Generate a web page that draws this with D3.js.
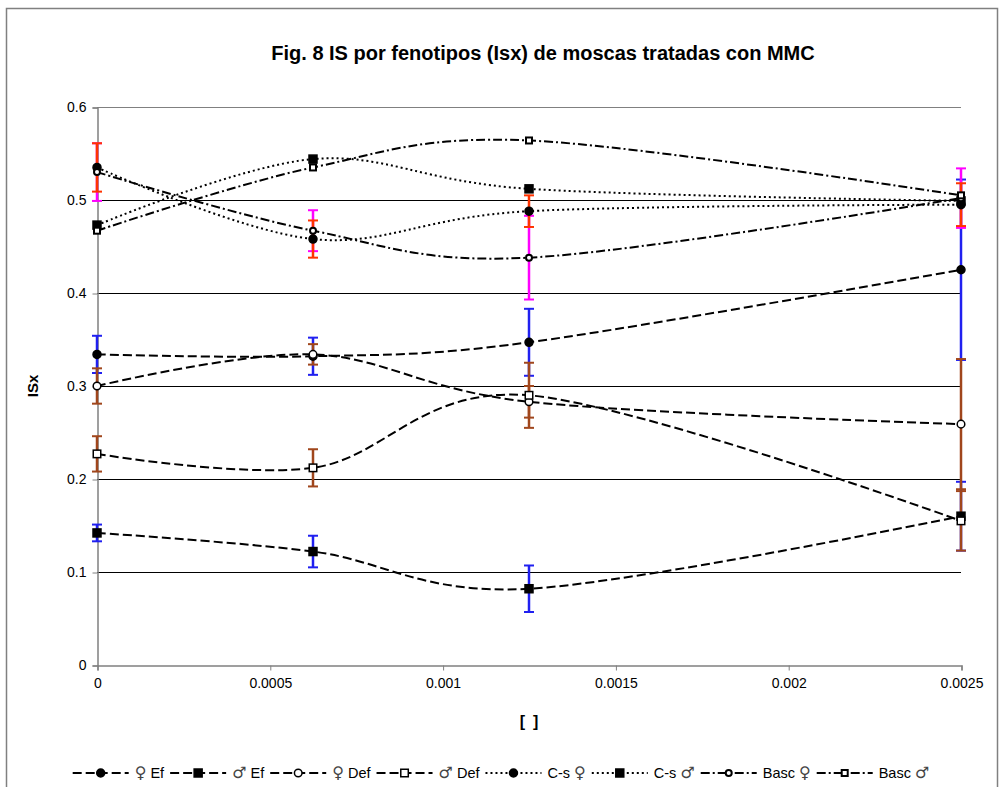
<!DOCTYPE html>
<html><head><meta charset="utf-8">
<script src="https://cdn.jsdelivr.net/npm/d3@7"></script>
<style>body{margin:0;background:#fff}svg{display:block;font-family:Arial,"Liberation Sans",sans-serif}</style>
</head><body>
<svg id="c" width="1006" height="787"></svg>
<script>
const title = "Fig. 8 IS por fenotipos (Isx) de moscas tratadas con MMC";
const xValues = [0, 0.000625, 0.00125, 0.0025];
const xTicks = [0, 0.0005, 0.001, 0.0015, 0.002, 0.0025];
const yTicks = [0, 0.1, 0.2, 0.3, 0.4, 0.5, 0.6];
const seriesNames = ["♀ Ef", "♂ Ef", "♀ Def", "♂ Def", "C-s ♀", "C-s ♂", "Basc ♀", "Basc ♂"];
const efF   = [0.334, 0.332, 0.347, 0.425];
const efM   = [0.142, 0.122, 0.082, 0.160];
const defF  = [0.300, 0.334, 0.283, 0.259];
const defM  = [0.227, 0.212, 0.290, 0.155];
const csF   = [0.535, 0.458, 0.488, 0.495];
const csM   = [0.473, 0.544, 0.512, 0.499];
const bascF = [0.530, 0.467, 0.438, 0.502];
const bascM = [0.467, 0.535, 0.564, 0.505];
const errEfF   = [0.020, 0.020, 0.036, 0.097];
const errEfM   = [0.009, 0.017, 0.025, 0.037];
const errDefF  = [0.019, 0.011, 0.017, 0.070];
const errDefM  = [0.019, 0.020, 0.035, 0.032];
const errCsF   = [0.026, 0.020, 0.017, 0.023];
const errBascF = [0.031, 0.022, 0.045, 0.032];

const styles = [
  {dash:"9,4", marker:"circle", fill:true},
  {dash:"9,4", marker:"square", fill:true},
  {dash:"9,4", marker:"circle", fill:false},
  {dash:"9,4", marker:"square", fill:false},
  {dash:"2,3", marker:"circle", fill:true},
  {dash:"2,3", marker:"square", fill:true},
  {dash:"9,3,2,3", marker:"circle", fill:false, small:true},
  {dash:"9,3,2,3", marker:"square", fill:false, small:true}
];
const seriesValues = [efF, efM, defF, defM, csF, csM, bascF, bascM];
const errorSets = [
  {vals: efF, err: errEfF, color:"#2020F0"},
  {vals: efM, err: errEfM, color:"#2020F0"},
  {vals: bascF, err: errBascF, color:"#FF00FF"},
  {vals: csF, err: errCsF, color:"#FF3300"},
  {vals: defF, err: errDefF, color:"#A0461C"},
  {vals: defM, err: errDefM, color:"#A0461C"}
];

const svg = d3.select("#c");
svg.append("rect").attr("x",6.5).attr("y",8.5).attr("width",991).attr("height",800)
  .attr("fill","#fff").attr("stroke","#808080").attr("stroke-width",1.5);

const x = d3.scaleLinear().domain([0,0.0025]).range([97,961]);
const y = d3.scaleLinear().domain([0,0.6]).range([665,107]);

svg.append("text").attr("x",543).attr("y",60).attr("text-anchor","middle")
  .attr("font-weight","bold").attr("font-size",20).text(title);

// gridlines
svg.append("g").selectAll("line").data(yTicks.filter(d=>d>0)).join("line")
  .attr("x1",97).attr("x2",961).attr("y1",d=>Math.round(y(d))+0.5).attr("y2",d=>Math.round(y(d))+0.5)
  .attr("stroke",d=>d===0.6?"#808080":"#000").attr("stroke-width",1);

// axes
const yAxis = d3.axisLeft(y).tickValues(yTicks).tickFormat(d=>d===0?"0":d3.format(".1f")(d)).tickSize(5).tickPadding(6);
const gy = svg.append("g").attr("transform","translate(97.5,0.5)").call(yAxis);
const xAxis = d3.axisBottom(x).tickValues(xTicks).tickFormat(d=>d===0?"0":String(+d.toFixed(4))).tickSize(5).tickPadding(8);
const gx = svg.append("g").attr("transform","translate(0.5,665.5)").call(xAxis);
[gx, gy].forEach(g=>{
  g.select(".domain").attr("stroke","#808080").attr("stroke-width",1.5);
  g.selectAll(".tick line").attr("stroke","#808080");
  g.selectAll("text").attr("font-size",14).attr("fill","#000").attr("font-family","Arial, Liberation Sans, sans-serif");
});

svg.append("text").attr("transform","translate(38,386) rotate(-90)").attr("text-anchor","middle")
  .attr("font-weight","bold").attr("font-size",15).text("ISx");
svg.append("text").attr("x",529).attr("y",727).attr("text-anchor","middle")
  .attr("font-weight","bold").attr("font-size",16).text("[\u2002]");

// error bars
const eg = svg.append("g");
errorSets.forEach(s=>{
  xValues.forEach((xv,i)=>{
    const cx = x(xv), lo = y(s.vals[i]-s.err[i]), hi = y(s.vals[i]+s.err[i]);
    eg.append("line").attr("x1",cx).attr("x2",cx).attr("y1",lo).attr("y2",hi).attr("stroke",s.color).attr("stroke-width",2.5);
    [lo,hi].forEach(yy=>eg.append("line").attr("x1",cx-5).attr("x2",cx+5).attr("y1",yy).attr("y2",yy).attr("stroke",s.color).attr("stroke-width",2));
  });
});

// lines
const line = d3.line().x(d=>x(d[0])).y(d=>y(d[1])).curve(d3.curveCardinal.tension(0));
const lg = svg.append("g");
seriesValues.forEach((vals,k)=>{
  lg.append("path").attr("d", line(xValues.map((xv,i)=>[xv,vals[i]])))
    .attr("fill","none").attr("stroke","#000").attr("stroke-width",2).attr("stroke-dasharray",styles[k].dash);
});

function drawMarker(g, cx, cy, st){
  if(st.marker==="circle"){
    const r = st.small?3:(st.fill?4:3.8);
    g.append("circle").attr("cx",cx).attr("cy",cy).attr("r",r)
      .attr("fill",st.fill?"#000":"#fff").attr("stroke","#000").attr("stroke-width",st.small?2:1.5);
  } else {
    const s = st.small?6:(st.fill?8:7.5);
    g.append("rect").attr("x",cx-s/2).attr("y",cy-s/2).attr("width",s).attr("height",s)
      .attr("fill",st.fill?"#000":"#fff").attr("stroke","#000").attr("stroke-width",st.small?2:1.5);
  }
}
const mg = svg.append("g");
seriesValues.forEach((vals,k)=>{
  xValues.forEach((xv,i)=>drawMarker(mg, x(xv), y(vals[i]), styles[k]));
});

// legend
const leg = svg.append("g");
const ly = 773, sampleW = 56;
const items = [];
seriesNames.forEach((name,k)=>{
  const g = leg.append("g");
  g.append("line").attr("x1",0).attr("x2",sampleW).attr("y1",0).attr("y2",0)
    .attr("stroke","#000").attr("stroke-width",2).attr("stroke-dasharray",styles[k].dash);
  drawMarker(g, sampleW/2, 0, styles[k]);
  const t = g.append("text").attr("x",sampleW+6).attr("y",5).attr("font-size",14.5);
  name.split(/([♀♂])/).filter(s=>s.length).forEach(part=>{
    const ts = t.append("tspan").text(part);
    if(part==="♀"||part==="♂") ts.attr("font-family","DejaVu Sans").attr("font-size",16).attr("fill","#444");
  });
  const w = sampleW+6+t.node().getComputedTextLength();
  items.push({g, w});
});
const gap = 6;
const total = d3.sum(items, d=>d.w) + gap*(items.length-1);
let cur = 501 - total/2;
items.forEach(it=>{ it.g.attr("transform",`translate(${cur},${ly})`); cur += it.w + gap; });
</script>
</body></html>
